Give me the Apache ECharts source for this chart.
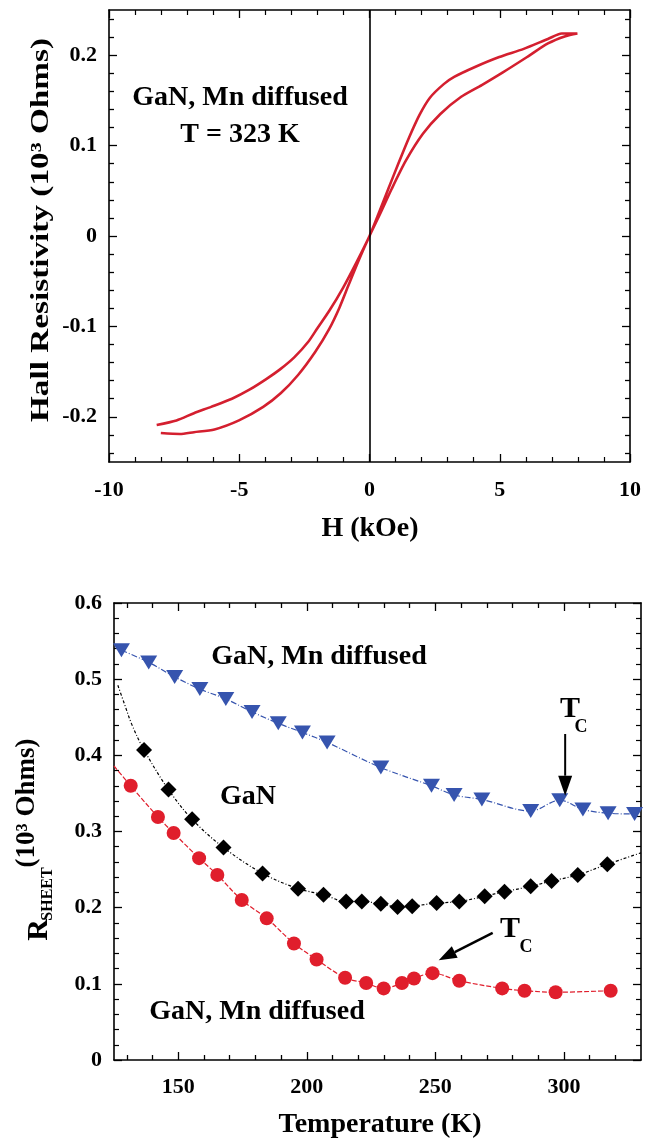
<!DOCTYPE html>
<html><head><meta charset="utf-8">
<script src="https://cdn.jsdelivr.net/npm/echarts@6/dist/echarts.min.js"></script>
<style>html,body{margin:0;padding:0;background:#fff}#c{width:645px;height:1141px}</style>
</head><body><div id="c"></div>
<script>
// ---------- Top panel: Hall resistivity loop (single continuous path) ----------
const hallH = [-8.01,-7.28,-6.74,-5.95,-5.01,-4.08,-3.41,-2.75,-2.08,-1.55,-1.15,-0.8,-0.4,0,
  0.4,0.85,1.39,2.05,2.72,3.52,4.31,5.12,6.05,6.85,7.52,7.98,
  7.38,6.85,5.92,4.98,4.05,3.25,2.85,2.32,1.92,1.52,1.12,0.72,0.35,0,
  -0.48,-1.01,-1.55,-2.0,-2.35,-2.88,-3.41,-3.95,-4.61,-5.28,-6.08,-6.74,-7.41,-8.17];
const hallR = [-0.218,-0.219,-0.217,-0.214,-0.204,-0.189,-0.174,-0.154,-0.128,-0.103,-0.079,-0.054,-0.026,0,
  0.024,0.052,0.083,0.113,0.135,0.154,0.167,0.181,0.198,0.213,0.221,0.224,
  0.224,0.218,0.207,0.198,0.187,0.176,0.168,0.153,0.134,0.109,0.081,0.052,0.025,0,
  -0.028,-0.057,-0.083,-0.102,-0.117,-0.134,-0.147,-0.158,-0.170,-0.180,-0.189,-0.196,-0.204,-0.209];
const topYMajor = [-0.2,-0.1,0,0.1,0.2];
const topYMinor = [-0.24,-0.22,-0.18,-0.16,-0.14,-0.12,-0.08,-0.06,-0.04,-0.02,0.02,0.04,0.06,0.08,0.12,0.14,0.16,0.18,0.22,0.24];

// ---------- Bottom panel: sheet resistance vs temperature ----------
const blueT = [127.9,138.5,148.6,158.4,168.5,178.7,188.9,198.3,207.9,228.8,248.5,257.3,268.1,287.1,298.4,307.4,317.2,327.5];
const blueR = [0.538,0.522,0.503,0.487,0.474,0.457,0.442,0.430,0.417,0.384,0.360,0.348,0.342,0.327,0.341,0.329,0.324,0.323];
const blackT = [136.7,146.2,155.4,167.6,182.8,196.6,206.5,215.3,221.4,228.8,235.3,241.0,250.5,259.3,269.2,276.9,287.1,295.2,305.4,316.9];
const blackR = [0.407,0.355,0.316,0.279,0.245,0.225,0.217,0.208,0.208,0.205,0.201,0.202,0.206,0.208,0.215,0.221,0.228,0.235,0.243,0.257];
const redT = [131.5,142.1,148.2,158.1,165.2,174.7,184.4,195.0,203.8,214.9,223.1,229.9,237.0,241.7,248.9,259.3,276.0,284.7,296.8,318.2];
const redR = [0.360,0.319,0.298,0.265,0.243,0.210,0.186,0.153,0.132,0.108,0.101,0.094,0.101,0.107,0.114,0.104,0.094,0.091,0.089,0.091];
// guide-line extensions beyond the symbols
const blackHeadT = [126.5,129.0,132.0];
const blackHeadR = [0.492,0.468,0.440];
const blackTailT = [330];
const blackTailR = [0.272];
const redHeadT = [125];
const redHeadR = [0.386];
const botXMajor = [150,200,250,300];
const botXMinor = [130,140,160,170,180,190,210,220,230,240,260,270,280,290,310,320];

const zip = (a, b) => a.map((v, i) => [v, b[i]]);
const SERIF = '"Liberation Serif","Times New Roman",serif';
const lbl = (extra) => Object.assign({color:'#000', fontFamily:SERIF, fontWeight:'bold', fontSize:22}, extra||{});
const fmt = v => Math.abs(v) < 1e-9 ? '0' : v.toFixed(1);

function axis(o) {
  const a = {
    type:'value', gridIndex:o.grid, position:o.pos, min:o.min, max:o.max,
    splitLine:{show:false}, minorSplitLine:{show:false},
    axisLine:{show:o.line!==false, onZero:false, lineStyle:{color:'#000', width:1.6}},
    axisTick:{show:true, inside:true, length:o.len||8, lineStyle:{color:'#000', width:1.3}},
    axisLabel:{show:false},
    minorTick:{show:false}
  };
  if (o.interval !== undefined) a.interval = o.interval;
  if (o.ticks) a.axisTick.customValues = o.ticks;
  if (o.minor) a.minorTick = {show:true, splitNumber:o.minor, length:5, lineStyle:{color:'#000', width:1.2}};
  if (o.labels) a.axisLabel = lbl({show:true, margin:o.margin, formatter:o.fmt, customValues:o.labelValues});
  return a;
}

const chart = echarts.init(document.getElementById('c'), null, {renderer:'canvas'});

const xAxes = [
  axis({grid:0, pos:'bottom', min:-10, max:10, interval:5, minor:5, labels:true, margin:17, fmt:v=>String(v)}),
  axis({grid:0, pos:'top', min:-10, max:10, interval:5, minor:5}),
  axis({grid:1, pos:'bottom', min:125, max:330, ticks:botXMajor, labels:true, labelValues:botXMajor, margin:16, fmt:v=>String(v)}),
  axis({grid:1, pos:'bottom', min:125, max:330, ticks:botXMinor, len:5, line:false}),
  axis({grid:1, pos:'top', min:125, max:330, ticks:botXMajor}),
  axis({grid:1, pos:'top', min:125, max:330, ticks:botXMinor, len:5, line:false})
];
const yAxes = [
  axis({grid:0, pos:'left', min:-0.25, max:0.25, ticks:topYMajor, labels:true, labelValues:topYMajor, margin:12, fmt:fmt}),
  axis({grid:0, pos:'left', min:-0.25, max:0.25, ticks:topYMinor, len:5, line:false}),
  axis({grid:0, pos:'right', min:-0.25, max:0.25, ticks:topYMajor}),
  axis({grid:0, pos:'right', min:-0.25, max:0.25, ticks:topYMinor, len:5, line:false}),
  axis({grid:1, pos:'left', min:0, max:0.6, interval:0.1, minor:5, labels:true, margin:12, fmt:fmt}),
  axis({grid:1, pos:'right', min:0, max:0.6, interval:0.1, minor:5})
];

const guide = (name, data, color, dash) => ({
  name, type:'line', xAxisIndex:2, yAxisIndex:4, data, smooth:0.35, showSymbol:false, silent:true, z:2,
  lineStyle:{color, width:1.2, type:dash}
});
const marks = (name, t, r, symbol, size, color, rot) => ({
  name, type:'scatter', xAxisIndex:2, yAxisIndex:4, data:zip(t, r), symbol, symbolSize:size,
  symbolRotate:rot||0, itemStyle:{color, opacity:1}, z:5
});

const BLUE = '#3654ae', RED = '#e01e2c';

chart.setOption({
  animation:false,
  backgroundColor:'#fff',
  grid:[
    {left:109, right:15, top:10, height:452},
    {left:114, right:4, top:603, height:457}
  ],
  xAxis:xAxes,
  yAxis:yAxes,
  series:[
    {name:'Hall', type:'line', xAxisIndex:0, yAxisIndex:0, data:zip(hallH, hallR), smooth:0.25, showSymbol:false,
     lineStyle:{color:'#d41f2f', width:2.6}, z:3,
     markLine:{silent:true, symbol:['none','none'], label:{show:false}, lineStyle:{color:'#000', width:1.6, type:'solid'},
       data:[{xAxis:0}]}},
    guide('blueFit', zip(blueT, blueR), BLUE, [6,2,1,2]),
    guide('blackFit', zip(blackHeadT, blackHeadR).concat(zip(blackT, blackR), zip(blackTailT, blackTailR)), '#000', [3,2,1,2]),
    guide('redFit', zip(redHeadT, redHeadR).concat(zip(redT, redR)), RED, [5,2]),
    marks('GaN, Mn diffused (upper)', blueT, blueR, 'triangle', [17,14], BLUE, 180),
    marks('GaN', blackT, blackR, 'diamond', 16, '#000'),
    marks('GaN, Mn diffused (lower)', redT, redR, 'circle', 14, RED)
  ]
});

// ---------- Annotations ----------
const txt = (text, x, y, size, extra) => Object.assign({
  type:'text', x, y, z:10,
  style:{text, fill:'#000', fontFamily:SERIF, fontWeight:'bold', fontSize:size, align:'center', verticalAlign:'middle'}
}, extra||{});

function arrow(from, to, headLen, headW, lw) {
  const dx = to[0]-from[0], dy = to[1]-from[1], L = Math.hypot(dx, dy), ux = dx/L, uy = dy/L;
  const b = [to[0]-ux*headLen, to[1]-uy*headLen];
  return [
    {type:'line', z:10, shape:{x1:from[0], y1:from[1], x2:b[0], y2:b[1]}, style:{stroke:'#000', lineWidth:lw}},
    {type:'polygon', z:10, shape:{points:[to, [b[0]-uy*headW/2, b[1]+ux*headW/2], [b[0]+uy*headW/2, b[1]-ux*headW/2]]}, style:{fill:'#000'}}
  ];
}
const p = (t, r) => chart.convertToPixel({xAxisIndex:2, yAxisIndex:4}, [t, r]);

const graphics = [
  txt('GaN, Mn diffused', 240, 98, 28),
  txt('T = 323 K', 240, 135, 28),
  txt('H (kOe)', 370, 529, 28),
  txt('Hall Resistivity (10³ Ohms)', 42, 230, 25, {rotation:Math.PI/2, scaleX:1.33}),
  txt('GaN, Mn diffused', 319, 657, 28),
  txt('GaN', 248, 797, 28),
  txt('GaN, Mn diffused', 257, 1012, 28),
  txt('T', 570, 709, 30),
  txt('C', 581, 727, 18),
  txt('T', 510, 929, 30),
  txt('C', 526, 947, 18),
  txt('Temperature (K)', 380, 1125, 28),
  txt('R', 39, 930, 30, {rotation:Math.PI/2}),
  txt('SHEET', 48, 894, 16, {rotation:Math.PI/2}),
  txt('(10³ Ohms)', 27, 803, 27, {rotation:Math.PI/2})
].concat(
  arrow(p(300.5, 0.428), p(300.5, 0.347), 20, 14, 2),
  arrow(p(272.3, 0.167), p(251.3, 0.131), 18, 13, 2.5)
);
chart.setOption({graphic:graphics});
</script>
</body></html>
